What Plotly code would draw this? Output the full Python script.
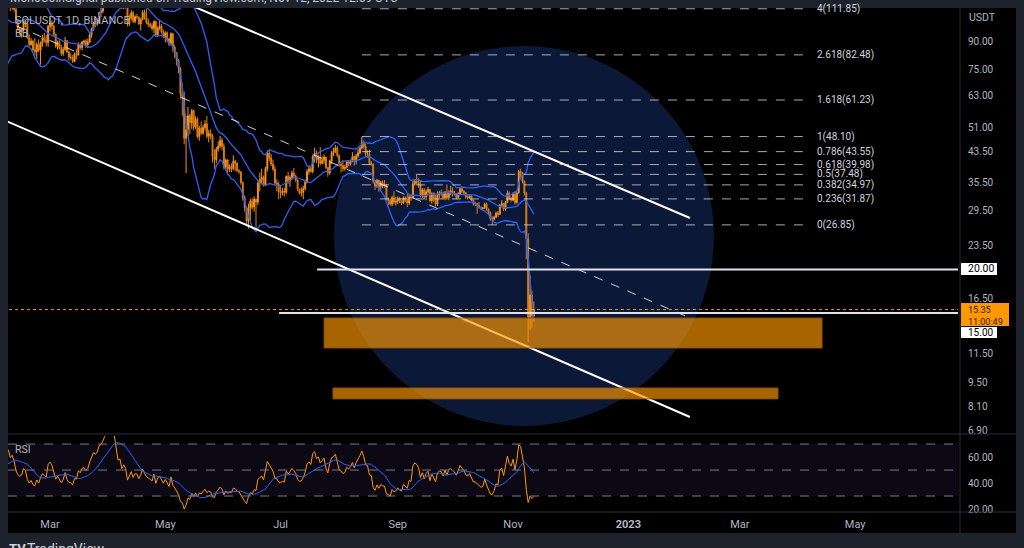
import numpy as np
import pandas as pd
import plotly.graph_objects as go

# SOLUSDT daily candles, Binance, from 2022-01-10 (January is only warm-up for the indicators)
close = [
    136.0, 143.5, 150.6, 144.9, 146.2, 148.1, 144.4, 136.3, 137.1, 132.0, 127.3, 107.8, 94.1, 97.2, 95.0, 92.3, 90.1, 88.3, 91.7, 93.2, 94.5, 99.0,
    105.4, 100.2, 100.4, 112.3, 115.0, 117.4, 118.9, 113.1, 116.0, 111.2, 102.2, 98.1, 96.3, 97.4, 103.4, 101.5, 92.4, 88.3, 90.3, 85.3, 84.2, 88.4, 85.1, 89.2, 92.3, 90.9, 89.4, 99.6,
    101.8, 99.7, 94.6, 87.3, 89.6, 86.1, 83.2, 85.4, 90.6, 84.1, 81.2, 81.0, 78.9, 83.0, 82.4, 88.2, 86.6, 89.8, 90.3, 88.4, 89.7, 94.2, 97.9, 101.9, 101.0, 103.1, 109.1, 110.1, 114.2, 120.5, 122.7,
    133.6, 130.4, 136.2, 134.5, 128.3, 118.9, 120.3, 112.4, 116.1, 113.0, 101.3, 105.1, 108.9, 102.8, 106.2, 105.9, 101.1, 104.3, 109.2, 105.3, 102.2, 100.9, 100.0, 98.2, 102.9, 94.2, 98.3, 99.5, 95.8, 92.9,
    95.4, 91.8, 88.6, 94.9, 86.7, 83.6, 79.8, 75.6, 63.9, 62.1, 47.6, 50.3, 55.2, 52.7, 57.1, 51.3, 53.9, 48.1, 50.8, 49.2, 51.1, 52.3, 48.2, 49.1, 48.2, 42.1, 41.3, 44.3, 45.2, 46.9, 45.1,
    39.3, 41.2, 38.8, 39.4, 38.9, 40.9, 40.3, 38.4, 38.1, 35.5, 32.2, 30.1, 27.5, 30.0, 31.4, 30.2, 31.8, 31.2, 35.4, 36.2, 36.7, 34.9, 38.9, 43.1, 41.8, 40.1, 38.8, 35.4, 35.1, 33.4,
    33.2, 33.6, 33.3, 37.0, 35.9, 36.7, 37.8, 37.1, 36.1, 34.0, 33.2, 33.3, 34.1, 35.6, 38.2, 38.9, 38.2, 42.2, 43.1, 41.3, 41.9, 40.3, 41.1, 42.0, 39.2, 37.8, 40.9, 43.2, 43.6, 44.6, 42.5,
    40.1, 39.7, 38.9, 39.2, 40.7, 40.2, 40.9, 42.1, 40.8, 42.3, 43.2, 44.6, 46.2, 45.0, 43.0, 42.8, 40.3, 40.1, 35.9, 34.7, 36.0, 34.6, 35.5, 35.0, 34.9, 31.8, 31.6, 30.8, 32.1, 31.2, 31.4,
    31.9, 31.3, 31.0, 32.1, 31.6, 31.0, 32.3, 32.1, 35.2, 35.9, 35.6, 35.0, 32.8, 33.8, 32.3, 33.4, 33.9, 31.5, 33.0, 31.9, 30.8, 32.8, 33.2, 33.1, 32.0, 33.3, 32.1, 33.4, 33.6, 33.2,
    32.9, 32.2, 33.0, 34.1, 33.5, 33.2, 32.3, 32.1, 32.5, 31.6, 30.9, 30.9, 30.5, 30.1, 29.9, 30.0, 30.8, 29.8, 29.1, 28.0, 27.9, 28.3, 29.0, 28.8, 30.6, 30.9, 29.8, 31.2, 33.1, 32.0, 31.6,
    32.9, 31.1, 33.2, 38.2, 37.9, 35.8, 33.1, 24.5, 14.6, 16.9, 14.7, 15.35,
]
high = [
    140.2, 145.0, 153.0, 152.6, 148.9, 150.3, 149.0, 145.2, 139.4, 138.9, 140.6, 128.0, 109.9, 99.6, 97.6, 97.0, 99.8, 91.5, 93.0, 95.4, 97.2, 100.5,
    107.5, 106.3, 101.6, 113.4, 118.2, 119.8, 122.4, 120.5, 117.4, 119.3, 113.5, 104.0, 99.3, 98.4, 104.2, 104.6, 102.0, 94.5, 92.1, 91.1, 92.2, 89.6, 91.4, 90.1, 94.2, 95.3, 94.1, 100.4,
    105.8, 103.6, 100.8, 94.9, 90.7, 90.8, 88.2, 86.9, 93.0, 90.8, 84.8, 83.2, 82.6, 83.9, 85.6, 89.6, 89.1, 90.5, 91.2, 91.4, 91.9, 95.3, 98.8, 102.5, 104.8, 104.2, 109.8, 112.4, 115.1, 121.3, 125.8,
    135.4, 136.2, 137.6, 137.9, 135.5, 128.6, 122.9, 121.0, 117.3, 117.4, 113.2, 107.5, 110.8, 110.1, 107.2, 108.2, 106.1, 105.0, 110.9, 111.2, 111.9, 104.9, 102.3, 101.6, 103.5, 103.4, 99.6, 103.4, 101.2, 97.5,
    96.4, 96.3, 92.1, 95.7, 95.4, 87.8, 84.1, 80.2, 76.0, 68.4, 64.8, 55.2, 58.5, 55.9, 57.7, 57.4, 55.0, 54.6, 51.6, 53.2, 51.9, 53.6, 55.1, 50.2, 50.5, 48.9, 44.2, 44.9, 46.6, 48.3, 47.8,
    46.0, 41.6, 41.4, 40.0, 40.3, 42.5, 41.2, 40.6, 38.8, 38.3, 35.8, 32.6, 30.3, 30.9, 31.9, 32.1, 32.4, 31.9, 35.8, 37.9, 38.9, 37.2, 39.4, 43.9, 44.1, 42.9, 41.3, 39.7, 36.3, 35.7,
    34.7, 34.2, 34.3, 37.2, 38.1, 37.2, 38.4, 39.1, 37.4, 36.2, 34.1, 34.4, 34.8, 36.2, 38.8, 39.8, 39.7, 42.7, 44.7, 43.9, 42.5, 44.9, 42.2, 42.8, 42.1, 39.4, 41.3, 43.8, 44.6, 45.5, 45.2,
    42.7, 40.6, 41.1, 39.9, 41.0, 41.2, 41.3, 43.4, 42.4, 42.9, 44.2, 45.3, 48.1, 46.9, 45.9, 43.9, 44.0, 40.9, 40.3, 36.1, 36.4, 36.2, 35.9, 36.0, 36.1, 35.2, 32.2, 32.0, 32.6, 33.5, 32.3,
    32.4, 32.3, 31.6, 32.4, 32.4, 33.0, 32.7, 32.8, 35.9, 36.3, 37.3, 36.5, 36.0, 34.2, 34.2, 33.9, 34.5, 34.1, 33.3, 33.3, 32.7, 33.5, 33.6, 33.9, 33.4, 33.6, 35.1, 33.7, 34.8, 34.4,
    33.6, 33.1, 33.3, 34.4, 34.7, 33.8, 33.4, 32.6, 32.8, 32.7, 31.7, 31.3, 31.0, 31.2, 30.3, 30.2, 31.1, 31.1, 29.9, 29.3, 28.4, 28.5, 29.3, 29.4, 30.8, 31.6, 31.0, 31.4, 33.7, 33.5, 32.3,
    33.3, 33.6, 33.5, 38.6, 38.9, 38.1, 36.0, 33.4, 25.4, 19.2, 17.4, 16.2,
]
low = [
    128.4, 134.2, 142.3, 143.0, 141.3, 144.2, 142.0, 134.0, 131.0, 129.8, 126.0, 103.0, 82.5, 89.7, 84.0, 88.0, 88.3, 81.8, 86.4, 90.2, 92.1, 92.5,
    98.1, 99.3, 94.0, 99.5, 110.3, 112.8, 114.5, 110.1, 111.2, 109.8, 101.0, 96.8, 93.9, 92.4, 96.5, 99.0, 91.6, 87.2, 87.6, 84.3, 82.0, 80.3, 84.0, 77.3, 87.0, 89.8, 87.2, 87.0,
    96.3, 97.3, 92.8, 86.4, 85.4, 85.5, 81.9, 82.0, 84.8, 83.5, 79.4, 79.9, 78.3, 78.6, 80.0, 82.1, 85.3, 85.0, 88.2, 86.4, 86.3, 89.3, 92.4, 96.7, 99.1, 100.0, 102.6, 105.8, 108.7, 113.2, 119.4,
    120.5, 127.4, 128.5, 128.6, 127.2, 116.5, 116.2, 111.8, 111.6, 112.0, 99.5, 99.8, 104.0, 101.9, 101.6, 104.3, 100.7, 96.9, 103.5, 104.2, 100.9, 99.2, 98.5, 96.8, 95.2, 93.5, 92.7, 97.1, 95.0, 92.1,
    89.6, 89.5, 87.3, 87.8, 84.0, 80.7, 76.9, 73.1, 61.5, 55.2, 45.7, 37.8, 48.3, 48.8, 50.6, 50.1, 50.6, 47.5, 46.8, 48.6, 48.7, 50.1, 47.6, 46.3, 47.2, 40.5, 38.9, 40.4, 43.6, 44.6, 44.0,
    38.7, 38.4, 37.8, 38.1, 38.0, 38.5, 38.2, 38.1, 37.6, 35.0, 31.5, 29.3, 26.6, 26.2, 27.6, 29.7, 29.3, 26.0, 30.6, 33.5, 35.3, 34.6, 34.7, 38.2, 40.9, 39.6, 38.3, 35.0, 33.5, 31.8,
    32.0, 32.6, 32.4, 32.9, 35.2, 34.5, 36.1, 36.9, 35.7, 33.5, 32.8, 32.4, 31.8, 33.7, 35.3, 37.4, 37.9, 37.7, 40.5, 40.4, 39.2, 39.8, 40.1, 40.2, 38.8, 36.9, 37.4, 40.2, 42.3, 43.1, 41.9,
    39.4, 37.9, 38.2, 38.4, 39.0, 39.6, 39.7, 40.6, 39.7, 40.0, 41.9, 42.8, 44.2, 44.4, 42.1, 41.8, 39.9, 39.7, 35.3, 33.8, 34.3, 33.4, 33.9, 34.2, 34.3, 31.5, 30.6, 30.5, 30.4, 30.8, 30.5,
    30.8, 31.0, 30.6, 30.9, 31.2, 30.2, 30.6, 31.5, 31.9, 34.8, 35.1, 34.3, 32.2, 32.1, 32.0, 31.6, 33.0, 31.3, 30.9, 31.3, 30.3, 30.4, 32.1, 32.5, 31.7, 31.6, 31.7, 31.6, 32.6, 32.4,
    32.6, 31.8, 32.0, 32.8, 33.1, 32.9, 31.9, 31.8, 31.9, 31.4, 30.5, 30.4, 28.9, 29.9, 29.6, 29.7, 29.8, 29.5, 28.8, 27.6, 26.9, 27.6, 28.1, 28.3, 28.7, 30.1, 29.4, 29.5, 31.0, 31.6, 31.3,
    31.4, 30.7, 30.9, 33.0, 36.6, 35.3, 32.6, 21.4, 12.4, 13.4, 13.6, 14.2,
]

# fibonacci extension drawn from the august high
fib_ratio = ["4", "2.618", "1.618", "1", "0.786", "0.618", "0.5", "0.382", "0.236", "0"]
fib_price = [111.85, 82.48, 61.23, 48.10, 43.55, 39.98, 37.48, 34.97, 31.87, 26.85]

# price axis ticks
price_ticks = [90, 75, 63, 51, 43.5, 35.5, 29.5, 23.5, 16.5, 11.5, 9.5, 8.1, 6.9]
rsi_ticks = [60, 40, 20]
month_ticks = ["2022-03-01", "2022-05-01", "2022-07-01", "2022-09-01", "2022-11-01",
               "2023-01-01", "2023-03-01", "2023-05-01"]
month_labels = ["Mar", "May", "Jul", "Sep", "Nov", "<b>2023</b>", "Mar", "May"]

last_price = 15.35
countdown = "11:00:49"
levels = [20.0, 15.0]

# --- indicators -------------------------------------------------------------
dates = pd.date_range("2022-01-10", periods=len(close), freq="D")
# crypto trades 24/7 so every candle opens at the previous close
opens = [close[0]] + close[:-1]

s = pd.Series(close, index=dates)
basis = s.rolling(20).mean()
dev = s.rolling(20).std(ddof=0)
bb_up = basis + 2 * dev
bb_lo = basis - 2 * dev

delta = s.diff()
gain = delta.clip(lower=0).ewm(alpha=1 / 14, adjust=False).mean()
loss = (-delta.clip(upper=0)).ewm(alpha=1 / 14, adjust=False).mean()
rsi = 100 - 100 / (1 + gain / loss)
rsi_ma = rsi.rolling(14).mean()

# --- helpers (pixel -> paper for the frame decorations) ---------------------
W, H = 1024, 548
L, R, T, B = 8, 958, 8, 512


def px(x):
    return (x - L) / (R - L)


def py(y):
    return (B - y) / (B - T)


ORANGE = "#ff9800"
BLUE = "#2962ff"
GREY = "#b2b5be"
FONT = "Roboto"

fig = go.Figure()

fig.add_trace(go.Candlestick(
    x=dates, open=opens, high=high, low=low, close=close,
    increasing=dict(line=dict(color="#f7931a", width=1), fillcolor="#f7931a"),
    decreasing=dict(line=dict(color="#e0800f", width=1), fillcolor="#b5600c"),
    whiskerwidth=0, xaxis="x", yaxis="y",
))
for band in (bb_up, basis, bb_lo):
    fig.add_trace(go.Scatter(x=dates, y=band, mode="lines",
                             line=dict(color=BLUE, width=1.3), xaxis="x", yaxis="y"))

fig.add_trace(go.Scatter(x=dates, y=rsi, mode="lines", line=dict(color=ORANGE, width=1),
                         xaxis="x2", yaxis="y2"))
fig.add_trace(go.Scatter(x=dates, y=rsi_ma, mode="lines", line=dict(color=BLUE, width=1),
                         xaxis="x2", yaxis="y2"))

shapes = []
# chart area + separators
shapes.append(dict(type="rect", xref="paper", yref="paper", x0=0, x1=px(1016), y0=py(533), y1=1,
                   fillcolor="black", line_width=0, layer="below"))
for yy in (434, 512):
    shapes.append(dict(type="line", xref="paper", yref="paper", x0=0, x1=px(1016), y0=py(yy), y1=py(yy),
                       line=dict(color="#2a2e39", width=1)))
shapes.append(dict(type="line", xref="paper", yref="paper", x0=px(960), x1=px(960), y0=py(533), y1=1,
                   line=dict(color="#2a2e39", width=1)))

# big highlight circle
shapes.append(dict(type="circle", xref="x", yref="y", x0="2022-07-29 07:00", x1="2023-02-15 07:00",
                   y0=7.12, y1=87.5, fillcolor="#0b1838", line_width=0, layer="below"))

# descending channel
shapes.append(dict(type="line", xref="x", yref="y", x0="2022-05-16 17:00", y0=113.1,
                   x1="2023-02-02 14:00", y1=28.1, line=dict(color="white", width=2)))
shapes.append(dict(type="line", xref="x", yref="y", x0="2022-02-02 11:00", y0=54.3,
                   x1="2023-02-02 14:00", y1=7.554, line=dict(color="white", width=2)))
shapes.append(dict(type="line", xref="x", yref="y", x0="2022-02-02 11:00", y0=104.7,
                   x1="2023-02-02 14:00", y1=14.52, line=dict(color="rgba(255,255,255,0.8)", width=1, dash="dash")))

# fib levels
for p in fib_price:
    shapes.append(dict(type="line", xref="x", yref="y", x0="2022-08-13", x1="2023-04-06", y0=p, y1=p,
                       line=dict(color="rgba(210,212,220,0.8)", width=1, dash="dash")))

# horizontal supports
shapes.append(dict(type="line", xref="x", yref="y", x0="2022-07-20 08:00", x1="2023-06-24 10:00",
                   y0=levels[0], y1=levels[0], line=dict(color="#e0e3eb", width=2)))
shapes.append(dict(type="line", xref="x", yref="y", x0="2022-06-30 05:00", x1="2023-06-24 10:00",
                   y0=levels[1], y1=levels[1], line=dict(color="#e0e3eb", width=2)))
shapes.append(dict(type="line", xref="x", yref="y", x0="2022-02-01", x1="2023-06-24 10:00",
                   y0=last_price, y1=last_price, line=dict(color=ORANGE, width=1, dash="dot")))

# demand zones
shapes.append(dict(type="rect", xref="x", yref="y", x0="2022-07-24", x1="2023-04-13 12:00",
                   y0=11.91, y1=14.52, fillcolor="rgba(255,152,0,0.66)",
                   line=dict(color="rgba(140,80,0,0.9)", width=1)))
shapes.append(dict(type="rect", xref="x", yref="y", x0="2022-07-28 17:00", x1="2023-03-21 05:00",
                   y0=8.51, y1=9.15, fillcolor="rgba(255,152,0,0.66)",
                   line=dict(color="rgba(140,80,0,0.9)", width=1)))

# RSI band
shapes.append(dict(type="rect", xref="x2 domain", yref="y2", x0=0, x1=1, y0=30, y1=70,
                   fillcolor="rgba(126,87,194,0.1)", line_width=0, layer="below"))
for lv in (70, 50, 30):
    shapes.append(dict(type="line", xref="x2 domain", yref="y2", x0=0, x1=1, y0=lv, y1=lv,
                       line=dict(color="#787b86", width=1, dash="dash")))

# price tags on the axis
shapes.append(dict(type="rect", xref="paper", yref="paper", x0=px(961), x1=px(997), y0=py(275), y1=py(263),
                   fillcolor="white", line_width=0))
shapes.append(dict(type="rect", xref="paper", yref="paper", x0=px(961), x1=px(1009), y0=py(326), y1=py(303),
                   fillcolor=ORANGE, line_width=0))
shapes.append(dict(type="rect", xref="paper", yref="paper", x0=px(961), x1=px(997), y0=py(338), y1=py(327),
                   fillcolor="white", line_width=0))

ann = []


def text(x, y, t, size=11, color=GREY, anchor="left", yanchor="middle", pad=1):
    ann.append(dict(xref="paper", yref="paper", x=x, y=y, text=t, showarrow=False, xanchor=anchor,
                    yanchor=yanchor, align="left", borderpad=pad,
                    font=dict(family=FONT, size=size, color=color)))


for r, p in zip(fib_ratio, fib_price):
    ann.append(dict(xref="x", yref="y", x="2023-04-09 19:00", y=np.log10(p), text=f"{r}({p:.2f})",
                    showarrow=False, xanchor="left", yanchor="middle",
                    font=dict(family=FONT, size=10, color="#d1d4dc")))

text(px(967), py(269), f"{levels[0]:.2f}", 10.5, "black", pad=0)
text(px(967), py(315.5), f"{last_price:.2f}<br>{countdown}", 9, "#2b1a00", pad=0)
text(px(967), py(332.5), f"{levels[1]:.2f}", 10, "black", pad=0)
text(px(967), py(17), "USDT", 10.5)

text(px(13), py(20), "SOLUSDT, 1D, BINANCE", 11)
text(px(13), py(33), "BB", 11)
text(px(13), py(449), "RSI", 10.5)
text(0, py(7.5), "MonoCoinSignal published on TradingView.com, Nov 12, 2022 12:59 UTC", 12, "#c3c6ce",
     yanchor="bottom")
text(px(7), py(539), "<b>TV</b>", 13, "#d1d4dc", yanchor="top")
text(px(25), py(539), "TradingView", 14, "#d1d4dc", yanchor="top")

fig.update_layout(
    width=W, height=H,
    margin=dict(l=L, r=W - R, t=T, b=H - B),
    paper_bgcolor="#1e222d", plot_bgcolor="black",
    showlegend=False, hovermode=False,
    shapes=shapes, annotations=ann,
    xaxis=dict(domain=[0, 1], anchor="y", range=["2022-02-06 18:40", "2023-06-24 10:00"],
               showticklabels=False, showgrid=False, zeroline=False, rangeslider=dict(visible=False)),
    yaxis=dict(domain=[py(433), 1], anchor="x", side="right", type="log",
               range=[0.8322, 2.0508], tickvals=price_ticks, ticktext=[f"{v:.2f}" for v in price_ticks],
               showgrid=False, zeroline=False, ticks="", ticklabelstandoff=9,
               tickfont=dict(family=FONT, size=10, color=GREY)),
    xaxis2=dict(domain=[0, 1], anchor="y2", matches="x", tickvals=month_ticks, ticktext=month_labels,
                showgrid=False, zeroline=False, ticks="", ticklabelstandoff=4,
                tickfont=dict(family=FONT, size=11, color=GREY)),
    yaxis2=dict(domain=[0, py(436)], anchor="x2", side="right", range=[17.7, 76.2],
                tickvals=rsi_ticks, ticktext=[f"{v:.2f}" for v in rsi_ticks],
                showgrid=False, zeroline=False, ticks="", ticklabelstandoff=9,
                tickfont=dict(family=FONT, size=10, color=GREY)),
)

# the page body has an 8px default margin; drop it so the 1024x548 figure sits at the origin
fig.write_html("out.html", config={"displayModeBar": False},
               post_script="document.body.style.margin='0';document.body.style.overflow='hidden';")
